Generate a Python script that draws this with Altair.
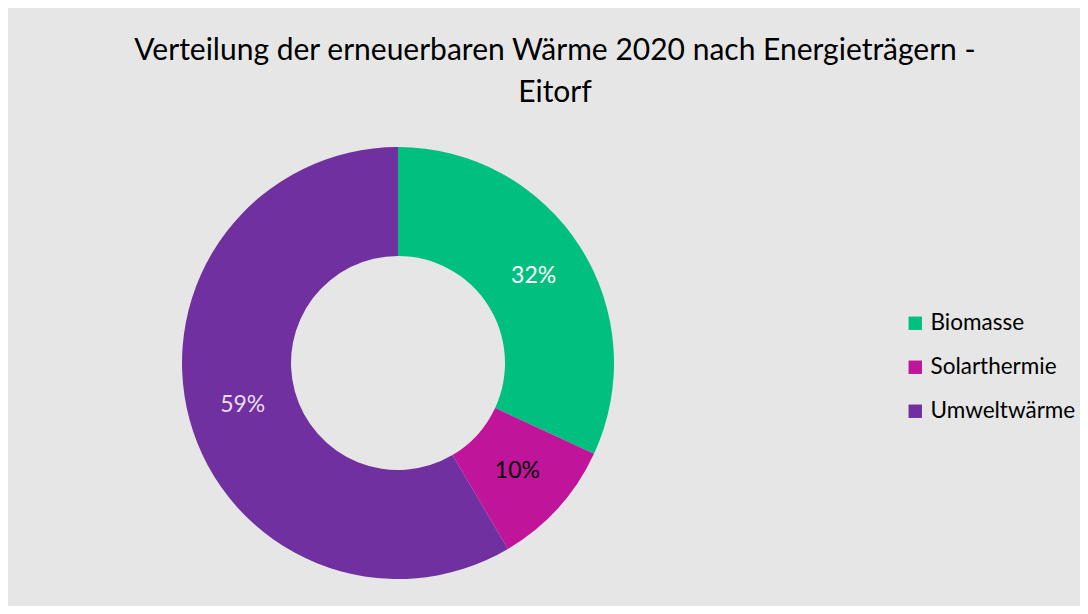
import altair as alt
import pandas as pd

categories = ["Biomasse", "Solarthermie", "Umweltwärme"]
shares = [31.9, 9.6, 58.5]
labels = ["32%", "10%", "59%"]
slice_colors = ["#00BF7F", "#C0159B", "#7030A0"]
label_colors = ["#FFFFFF", "#000000", "#EADCF2"]
title_lines = ["Verteilung der erneuerbaren Wärme 2020 nach Energieträgern -", "Eitorf"]

df = pd.DataFrame({
    "Kategorie": categories,
    "Anteil": shares,
    "Label": labels,
    "Ordnung": list(range(len(categories))),
})

FONT = "Lato"
cx, cy = 390, 245

base = alt.Chart(df).encode(
    theta=alt.Theta("Anteil:Q", stack=True),
    order=alt.Order("Ordnung:Q", sort="ascending"),
    x=alt.value(cx),
    y=alt.value(cy),
)

arcs = base.mark_arc(outerRadius=216, innerRadius=107).encode(
    color=alt.Color(
        "Kategorie:N",
        scale=alt.Scale(domain=categories, range=slice_colors),
        sort=categories,
        legend=alt.Legend(
            title=None,
            orient="none",
            legendX=896,
            legendY=194,
            symbolType="square",
            symbolSize=180,
            symbolStrokeWidth=0,
            labelFont=FONT,
            labelFontSize=22.5,
            labelColor="#000000",
            labelOffset=4,
            rowPadding=21,
        ),
    )
)

texts = base.mark_text(radius=161, font=FONT, fontSize=23).encode(
    text="Label:N",
    color=alt.Color(
        "Kategorie:N",
        scale=alt.Scale(domain=categories, range=label_colors),
        legend=None,
    ),
)

chart = (
    alt.layer(arcs, texts)
    .resolve_scale(color="independent")
    .properties(
        width=1072,
        height=488,
        padding={"top": 110, "left": 0, "right": 0, "bottom": 0},
        autosize=alt.AutoSizeParams(type="none"),
        title=alt.TitleParams(
            text=title_lines,
            font=FONT,
            fontSize=30,
            fontWeight="normal",
            color="#000000",
            anchor="middle",
            lineHeight=42,
            offset=0,
            dx=11,
            dy=-10,
        ),
    )
    .configure(background="#E6E6E6")
    .configure_view(stroke=None, fill="#E6E6E6")
)

chart.save("out.html", embed_options={"renderer": "svg", "actions": False})
